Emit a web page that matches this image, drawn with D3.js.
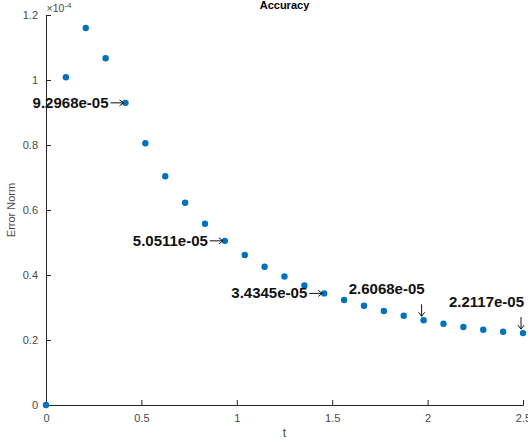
<!DOCTYPE html>
<html>
<head>
<meta charset="utf-8">
<script src="https://cdn.jsdelivr.net/npm/d3@7"></script>
<style>
  body { margin: 0; background: #fff; }
  svg { display: block; font-family: "Liberation Sans", Arial, sans-serif; }
</style>
</head>
<body>
<div id="target"></div>
<script>
// time samples
var tValues = [0, 0.1042, 0.2083, 0.3125, 0.4167, 0.5208, 0.625, 0.7292, 0.8333,
  0.9375, 1.0417, 1.1458, 1.25, 1.3542, 1.4583, 1.5625, 1.6667, 1.7708, 1.875,
  1.9792, 2.0833, 2.1875, 2.2917, 2.3958, 2.5];
// error norm, in units of 1e-4
var errValues = [0, 1.0083, 1.160, 1.0668, 0.92968, 0.8052, 0.7037, 0.6225, 0.5578,
  0.50511, 0.4615, 0.4255, 0.3955, 0.368, 0.34345, 0.3231, 0.3055, 0.2892, 0.2748,
  0.26068, 0.2502, 0.2400, 0.2317, 0.2255, 0.22117];
var xTicks = [0, 0.5, 1, 1.5, 2, 2.5];
var yTicks = [0, 0.2, 0.4, 0.6, 0.8, 1, 1.2];
var labelIdx = [4, 9, 14, 19, 24];
var labelText = ["9.2968e-05", "5.0511e-05", "3.4345e-05", "2.6068e-05", "2.2117e-05"];
var labelDir = ["right", "right", "right", "down", "down"];

var width = 528, height = 444;
var margin = {top: 15, right: 5, bottom: 39, left: 46};
var axisColor = "#262626", tickText = "#4a4a4a", dotColor = "#0072BD";

var svg = d3.select("#target").append("svg")
  .attr("width", width)
  .attr("height", height);

var x = d3.scaleLinear().domain([0, 2.5]).range([margin.left, width - margin.right]);
var y = d3.scaleLinear().domain([0, 1.2]).range([height - margin.bottom, margin.top]);

// axes (ticks point inward, MATLAB style)
var xAxis = svg.append("g")
  .attr("transform", `translate(0, ${y(0)})`)
  .call(d3.axisBottom(x).tickValues(xTicks).tickSize(-5).tickPadding(9).tickFormat(d3.format("")));
var yAxis = svg.append("g")
  .attr("transform", `translate(${x(0)}, 0)`)
  .call(d3.axisLeft(y).tickValues(yTicks).tickSize(-5).tickPadding(8).tickFormat(d3.format("")));

[xAxis, yAxis].forEach(a => {
  a.select(".domain").attr("stroke", axisColor).attr("stroke-width", 1);
  a.selectAll(".tick line").attr("stroke", axisColor);
  a.selectAll(".tick text").attr("fill", tickText).style("font-size", "11px")
    .style("font-family", "'Liberation Sans', Arial, sans-serif");
});

// exponent label
var expo = svg.append("text")
  .attr("x", x(0) + 0.5)
  .attr("y", 12)
  .attr("fill", tickText)
  .style("font-size", "10.5px");
expo.append("tspan").text("\u00d710");
expo.append("tspan").attr("dy", -4).style("font-size", "8px").text("-4");

// titles
svg.append("text")
  .attr("x", (x(0) + x(2.5)) / 2)
  .attr("y", 9)
  .attr("text-anchor", "middle")
  .style("font-size", "11px")
  .style("font-weight", "bold")
  .attr("fill", "#000")
  .text("Accuracy");

svg.append("text")
  .attr("x", (x(0) + x(2.5)) / 2)
  .attr("y", 437)
  .attr("text-anchor", "middle")
  .style("font-size", "12px")
  .attr("fill", tickText)
  .text("t");

svg.append("text")
  .attr("transform", `translate(15, ${(y(0) + y(1.2)) / 2}) rotate(-90)`)
  .attr("text-anchor", "middle")
  .style("font-size", "11px")
  .attr("fill", tickText)
  .text("Error Norm");

// points
var pts = tValues.map((t, i) => ({t: t, v: errValues[i]}));
svg.append("g").selectAll("circle")
  .data(pts)
  .enter()
  .append("circle")
  .attr("cx", d => x(d.t))
  .attr("cy", d => y(d.v))
  .attr("r", 3.2)
  .attr("fill", dotColor);

// annotations
var ann = svg.append("g");
labelIdx.forEach((idx, k) => {
  var px = x(tValues[idx]), py = y(errValues[idx]);
  if (labelDir[k] == "right") {
    var x1 = px - 15, x2 = px - 2;
    ann.append("path")
      .attr("d", `M${x1},${py} L${x2},${py} M${x2 - 4},${py - 3} L${x2},${py} L${x2 - 4},${py + 3}`)
      .attr("fill", "none").attr("stroke", "#111").attr("stroke-width", 1);
    ann.append("text")
      .attr("x", x1 - 2)
      .attr("y", py + 5)
      .attr("text-anchor", "end")
      .style("font-size", "15px")
      .style("font-weight", "bold")
      .attr("fill", "#111")
      .text(labelText[k]);
  } else {
    var ax = px - 2, y1 = py - 16, y2 = py - 4;
    ann.append("path")
      .attr("d", `M${ax},${y1} L${ax},${y2} M${ax - 3},${y2 - 4} L${ax},${y2} L${ax + 3},${y2 - 4}`)
      .attr("fill", "none").attr("stroke", "#111").attr("stroke-width", 1);
    ann.append("text")
      .attr("x", px + 1)
      .attr("y", py - 26)
      .attr("text-anchor", "end")
      .style("font-size", "15px")
      .style("font-weight", "bold")
      .attr("fill", "#111")
      .text(labelText[k]);
  }
});
</script>
</body>
</html>
